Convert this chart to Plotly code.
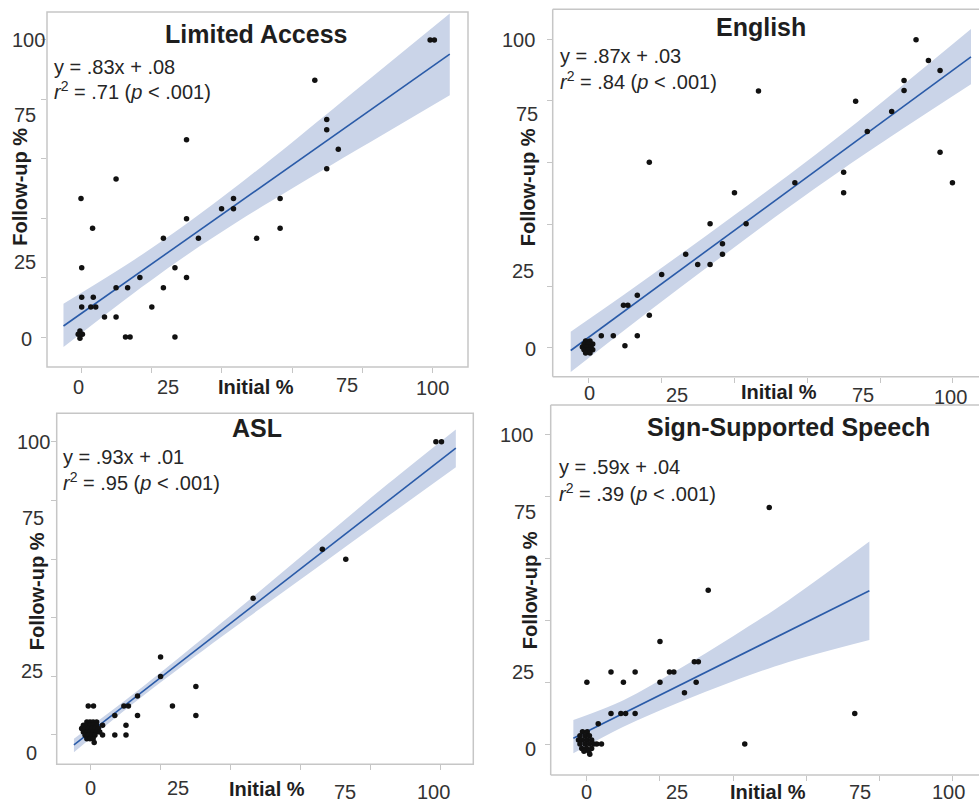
import plotly.graph_objects as go

# ------------------------------------------------------------------ data
titles = ["Limited Access", "English", "ASL", "Sign-Supported Speech"]
equations = ["y = .83x + .08", "y = .87x + .03", "y = .93x + .01", "y = .59x + .04"]
r2_values = [".71", ".84", ".95", ".39"]
p_text = "&lt; .001"
tick_marks = [0, 20, 40, 60, 80, 100]
tick_labels = ["0", "25", "75", "100"]
tick_label_vals = [0, 25, 75, 100]
x_title = "Initial %"
y_title = "Follow-up %"

# Limited Access
la_initial = [99.4, 100.6, 66.5, 69.9, 69.9, 73.2, 69.9, 29.9, 9.8, -0.2, 43.3, 39.9, 43.3,
              56.6, 56.6, 3.1, 29.9, 23.3, 33.3, 49.9, 0.0, 26.6, 16.6, 29.9, 9.8, 13.1, 23.3,
              0.0, 3.3, 0.0, 2.6, 4.0, 20.0, 6.5, 9.8, 12.5, 13.8, 26.6, -0.5, -1.0, 0.2, -0.5]
la_followup = [100, 100, 86.4, 73.2, 69.8, 63.2, 56.6, 66.4, 53.2, 46.6, 46.6, 43.2, 43.2,
               46.6, 36.6, 36.6, 39.8, 33.2, 33.2, 33.2, 23.3, 23.3, 20.0, 20.0, 16.6, 16.6, 16.6,
               13.4, 13.4, 10.1, 10.1, 10.1, 10.1, 6.7, 6.7, 0.0, 0.0, 0.0, 2.0, 0.9, 0.9, -0.4]
la_fit_x = [-5.2, 105]
la_fit_y = [3.7, 95.2]
la_ci_x = [-5.2, 15, 30, 45, 60, 80, 105]
la_ci_lo = [-3.4, 14.9, 27.6, 39.2, 50.0, 64.0, 81.4]
la_ci_hi = [11.2, 26.0, 38.2, 51.5, 65.5, 84.8, 108.9]

# English
en_initial = [89.9, 93.3, 96.5, 86.6, 86.6, 46.6, 73.3, 83.2, 76.5, 96.5, 16.6, 70.0, 56.6,
              99.9, 40.0, 70.0, 33.3, 43.2, 36.7, 26.6, 36.7, 29.9, 33.3, 20.0, 13.3, 9.5, 10.7,
              16.6, 3.4, 6.7, 13.3, 9.9,
              -0.9, 0.3, -1.35, -0.15, 1.05, -1.8, -0.6, 0.6, -1.35, -0.15, 1.05, -0.9, 0.3]
en_followup = [99.8, 93.1, 89.9, 86.6, 83.4, 83.2, 79.9, 76.6, 70.1, 63.4, 60.1, 56.9, 53.5,
               53.5, 50.2, 50.2, 40.2, 40.2, 33.7, 30.3, 30.3, 27.0, 27.0, 23.7, 17.0, 13.8, 13.8,
               10.5, 3.9, 3.9, 3.9, 0.6,
               2.2, 2.2, 1.2, 1.2, 1.2, 0.2, 0.2, 0.2, -0.7, -0.7, -0.7, -1.7, -1.7]
en_fit_x = [-5, 105]
en_fit_y = [-0.9, 94.3]
en_ci_x = [-5, 10, 25, 40, 55, 70, 85, 105]
en_ci_lo = [-7.9, 5.9, 19.4, 32.6, 45.6, 58.1, 70.0, 85.4]
en_ci_hi = [5.2, 17.5, 30.1, 43.0, 56.1, 69.7, 83.9, 103.3]

# ASL
asl_initial = [98.8, 100.4, 66.3, 73.0, 46.5, 20.0, 20.0, 30.1, 13.4, 23.4, 30.1, 9.5, 10.8,
               6.9, 13.4, 10.1, 6.9, 10.1, -0.7, 0.8, 3.4, 3.4,
               -1.1, -0.2, 0.7, 1.7,
               -2.1, -1.1, -0.2, 0.7, 1.7,
               -2.6, -1.6, -0.7, 0.3, 1.2, 2.2,
               -2.1, -1.1, -0.2, 0.7, 1.7, 2.6,
               -1.6, -0.7, 0.3, 1.2,
               -1.1, -0.2, 0.7,
               1.0]
asl_followup = [100, 100, 63.3, 59.9, 46.6, 26.6, 19.9, 16.5, 13.3, 9.9, 6.6, 9.9, 9.9,
                6.6, 6.6, 3.3, 0.0, 0.0, 9.9, 9.9, 3.3, 0.0,
                4.4, 4.4, 4.4, 4.4,
                3.3, 3.3, 3.3, 3.3, 3.3,
                2.2, 2.2, 2.2, 2.2, 2.2, 2.2,
                1.0, 1.0, 1.0, 1.0, 1.0, 1.0,
                -0.1, -0.1, -0.1, -0.1,
                -1.3, -1.3, -1.3,
                -2.6]
asl_fit_x = [-4.8, 104.5]
asl_fit_y = [-3.4, 97.8]
asl_ci_x = [-4.8, 10, 25, 45, 65, 85, 104.5]
asl_ci_lo = [-5.9, 8.7, 22.45, 40.05, 57.25, 74.55, 91.3]
asl_ci_hi = [-1.3, 11.9, 26.05, 45.65, 65.65, 85.55, 104.2]

# Sign-Supported Speech
sss_initial = [49.9, 33.2, 20.0, 29.4, 30.5, 6.6, 13.2, 22.6, 23.8, 0.0, 10.0, 20.0, 29.9,
               26.7, 6.6, 9.3, 10.6, 13.2, 73.3, 3.1, 43.2,
               -1.2, 0.1,
               -1.9, -0.5, 0.7,
               -2.3, -1.2, 0.1, 1.3,
               -1.9, -0.5, 0.7, 1.9, 2.7, 4.0,
               -1.4, -0.1, 1.3,
               -0.8, 0.5,
               0.8]
sss_followup = [76.5, 49.8, 33.2, 26.6, 26.6, 23.3, 23.3, 23.3, 23.3, 20.0, 20.0, 20.0, 20.0,
                16.6, 9.9, 9.9, 9.9, 9.9, 9.9, 6.6, 0.0,
                4.0, 4.0,
                2.7, 2.7, 2.7,
                1.3, 1.3, 1.3, 1.3,
                0.0, 0.0, 0.0, 0.0, 0.0, 0.0,
                -1.4, -1.4, -1.4,
                -2.3, -2.3,
                -3.3]
sss_fit_x = [-3.7, 77.3]
sss_fit_y = [1.9, 49.6]
sss_ci_x = [-3.7, 10, 25, 40, 55, 77.3]
sss_ci_lo = [-3.0, 5.6, 13.4, 20.3, 26.5, 33.7]
sss_ci_hi = [7.8, 14.2, 24.1, 34.9, 46.4, 65.5]

panels_data = [
    (la_initial, la_followup, la_fit_x, la_fit_y, la_ci_x, la_ci_lo, la_ci_hi),
    (en_initial, en_followup, en_fit_x, en_fit_y, en_ci_x, en_ci_lo, en_ci_hi),
    (asl_initial, asl_followup, asl_fit_x, asl_fit_y, asl_ci_x, asl_ci_lo, asl_ci_hi),
    (sss_initial, sss_followup, sss_fit_x, sss_fit_y, sss_ci_x, sss_ci_lo, sss_ci_hi),
]

# ------------------------------------------------------------------ layout config
W, H = 979, 803
FONT = "Liberation Sans, Arial, Helvetica, sans-serif"
TXT = "#262626"
BAND = "#cad4e8"
LINE = "#2a5ba8"
FRAME = "#c6c6c6"

layout_cfg = [
    dict(xd=[47 / W, 468 / W], yd=[1 - 367 / H, 1 - 12 / H], xr=[-9.9, 110.2], yr=[-10.1, 109.4],
         title_xy=(49.7, 102.0), eq_xy=(-8.4, 91.0, 82.9), frame="full",
         ylab=[(100.0, -18.7), (74.7, -22), (50.6, -27), (25.4, -22), (-0.8, -21)],
         xlab=[(-0.8, -19.7), (24.7, -19.7), (49.6, -19.7), (75.6, -18), (100, -21.3)]),
    dict(xd=[552.7 / W, 1.0], yd=[1 - 376.7 / H, 1 - 9.3 / H], xr=[-9.95, 107.2], yr=[-9.4, 109.7],
         title_xy=(47.3, 103.9), eq_xy=(-8.5, 94.7, 86.6), frame="open",
         ylab=[(99.8, -34.4), (75.9, -26), (52.1, -24.4), (24.9, -30), (-0.4, -22.7)],
         xlab=[(0.1, -16.6), (24.1, -18.3), (52.1, -15), (75.4, -18.3), (99.3, -20)]),
    dict(xd=[56.7 / W, 473.3 / W], yd=[1 - 764.3 / H, 1 - 413.3 / H], xr=[-9.73, 109.5], yr=[-10.0, 109.7],
         title_xy=(47.5, 104.6), eq_xy=(-8.6, 94.9, 86.6), frame="full",
         ylab=[(100, -23.4), (73.9, -23.4), (48.9, -20), (21.8, -25), (-6.2, -25)],
         xlab=[(-0.2, -24), (25.1, -24), (50.4, -25), (72.8, -27.5), (98.1, -27.5)]),
    dict(xd=[550.7 / W, 1.0], yd=[1 - 775 / H, 1 - 405 / H], xr=[-9.9, 107.3], yr=[-10.0, 109.7],
         title_xy=(55.1, 102.5), eq_xy=(-8.3, 89.7, 81.3), frame="open",
         ylab=[(100, -34), (75.2, -25.7), (49.8, -20.7), (23.4, -27.4), (-1.6, -20.7)],
         xlab=[(-0.2, -17), (24.6, -17), (49.6, -16.8), (74.7, -16.8), (98.9, -17)]),
]

fig = go.Figure()
annotations = []
shapes = []
layout_axes = {}

for i, (cfg, dat) in enumerate(zip(layout_cfg, panels_data)):
    s = "" if i == 0 else str(i + 1)
    xa, ya = "x" + s, "y" + s
    xi, yi, fx, fy, cx, clo, chi = dat

    # confidence band
    fig.add_trace(go.Scatter(x=cx, y=clo, mode="lines", line=dict(width=0, shape="spline", color=BAND),
                             xaxis=xa, yaxis=ya, hoverinfo="skip", showlegend=False))
    fig.add_trace(go.Scatter(x=cx, y=chi, mode="lines", line=dict(width=0, shape="spline", color=BAND),
                             fill="tonexty", fillcolor=BAND,
                             xaxis=xa, yaxis=ya, hoverinfo="skip", showlegend=False))
    # regression line
    fig.add_trace(go.Scatter(x=fx, y=fy, mode="lines", line=dict(width=1.6, color=LINE),
                             xaxis=xa, yaxis=ya, hoverinfo="skip", showlegend=False))
    # points
    fig.add_trace(go.Scatter(x=xi, y=yi, mode="markers",
                             marker=dict(size=5.5, color="#111111", line=dict(width=0)),
                             xaxis=xa, yaxis=ya, showlegend=False))

    axcommon = dict(showgrid=False, zeroline=False, showline=False, ticks="outside", ticklen=5,
                    tickwidth=1, tickcolor=FRAME, tickmode="array", tickvals=tick_marks,
                    showticklabels=False, fixedrange=True)
    layout_axes["xaxis" + s] = dict(axcommon, domain=cfg["xd"], range=cfg["xr"], anchor=ya)
    layout_axes["yaxis" + s] = dict(axcommon, domain=cfg["yd"], range=cfg["yr"], anchor=xa)

    # frame
    xd_ref, yd_ref = xa + " domain", ya + " domain"
    if cfg["frame"] == "full":
        shapes.append(dict(type="rect", xref=xd_ref, yref=yd_ref, x0=0, x1=1, y0=0, y1=1,
                           line=dict(color=FRAME, width=1.5), layer="above"))
    else:
        for (x0, y0, x1, y1) in [(0, 0, 0, 1), (0, 1, 1, 1), (0, 0, 1, 0)]:
            shapes.append(dict(type="line", xref=xd_ref, yref=yd_ref, x0=x0, x1=x1, y0=y0, y1=y1,
                               line=dict(color=FRAME, width=1.5), layer="above"))

    # title
    tx, ty = cfg["title_xy"]
    annotations.append(dict(xref=xa, yref=ya, x=tx, y=ty, text="<b>" + titles[i] + "</b>",
                            showarrow=False, xanchor="center", yanchor="middle",
                            font=dict(family=FONT, size=25, color="#1e1e1e")))
    # equation
    ex, ey1, ey2 = cfg["eq_xy"]
    annotations.append(dict(xref=xa, yref=ya, x=ex, y=ey1, text=equations[i], showarrow=False,
                            xanchor="left", yanchor="middle",
                            font=dict(family=FONT, size=20, color=TXT)))
    annotations.append(dict(xref=xa, yref=ya, x=ex, y=ey2,
                            text="<i>r</i><sup>2</sup> = " + r2_values[i] + " (<i>p</i> " + p_text + ")",
                            showarrow=False, xanchor="left", yanchor="middle",
                            font=dict(family=FONT, size=20, color=TXT)))

    # y tick labels + axis title
    ytexts = [tick_labels[3], tick_labels[2], y_title, tick_labels[1], tick_labels[0]]
    for txt, (yv, xs) in zip(ytexts, cfg["ylab"]):
        is_title = txt == y_title
        annotations.append(dict(xref=xd_ref, yref=ya, x=0, y=yv, xshift=xs,
                                text="<b>" + txt + "</b>" if is_title else txt,
                                textangle=-90 if is_title else 0,
                                showarrow=False, xanchor="center", yanchor="middle",
                                font=dict(family=FONT, size=20, color="#1e1e1e" if is_title else "#333333")))
    # x tick labels + axis title
    xtexts = [tick_labels[0], tick_labels[1], x_title, tick_labels[2], tick_labels[3]]
    for txt, (xv, ys) in zip(xtexts, cfg["xlab"]):
        is_title = txt == x_title
        annotations.append(dict(xref=xa, yref=yd_ref, x=xv, y=0, yshift=ys,
                                text="<b>" + txt + "</b>" if is_title else txt,
                                showarrow=False, xanchor="center", yanchor="middle",
                                font=dict(family=FONT, size=20, color="#1e1e1e" if is_title else "#333333")))

fig.update_layout(
    width=W, height=H,
    margin=dict(l=0, r=0, t=0, b=0),
    paper_bgcolor="white", plot_bgcolor="white",
    showlegend=False,
    annotations=annotations,
    shapes=shapes,
    **layout_axes,
)

fig.write_html(
    "out.html",
    config={"displayModeBar": False},
    post_script="document.body.style.margin='0';document.body.style.padding='0';"
                "document.body.style.overflow='hidden';",
)
